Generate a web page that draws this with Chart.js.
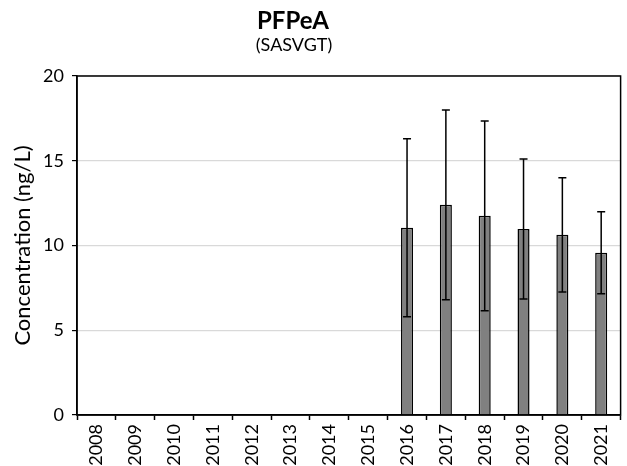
<!DOCTYPE html>
<html>
<head>
<meta charset="utf-8">
<script src="https://cdn.jsdelivr.net/npm/chart.js@4"></script>
<style>
  html, body { margin: 0; padding: 0; background: #fff; }
  #wrap { width: 627px; height: 466px; }
</style>
</head>
<body>
<div id="wrap"><canvas id="bars" width="627" height="466"></canvas></div>
<script>
const years = ["2008", "2009", "2010", "2011", "2012", "2013", "2014", "2015",
               "2016", "2017", "2018", "2019", "2020", "2021"];
const means = [null, null, null, null, null, null, null, null,
               11.05, 12.4, 11.75, 10.98, 10.63, 9.57];
const sds = [null, null, null, null, null, null, null, null,
             5.25, 5.6, 5.6, 4.13, 3.37, 2.42];
const yTicks = [0, 5, 10, 15, 20];

const FONT = "Lato, 'Open Sans', sans-serif";

// error bars (mean +/- sd), drawn from the scales
const errorBars = {
  id: "errorBars",
  afterDatasetsDraw(chart) {
    const ctx = chart.ctx;
    const y = chart.scales.y;
    const meta = chart.getDatasetMeta(0);
    ctx.save();
    ctx.strokeStyle = "#000";
    ctx.lineWidth = 1.5;
    meta.data.forEach((bar, i) => {
      if (means[i] == null || sds[i] == null) return;
      const top = y.getPixelForValue(means[i] + sds[i]);
      const bot = y.getPixelForValue(means[i] - sds[i]);
      const cap = 4;
      ctx.beginPath();
      ctx.moveTo(bar.x, top); ctx.lineTo(bar.x, bot);
      ctx.moveTo(bar.x - cap, top); ctx.lineTo(bar.x + cap, top);
      ctx.moveTo(bar.x - cap, bot); ctx.lineTo(bar.x + cap, bot);
      ctx.stroke();
    });
    ctx.restore();
  }
};

// plot frame + two-line title
const frame = {
  id: "frame",
  afterDraw(chart) {
    const ctx = chart.ctx;
    const a = chart.chartArea;
    ctx.save();
    ctx.strokeStyle = "#000";
    ctx.lineWidth = 1.5;
    ctx.strokeRect(a.left, a.top, a.right - a.left, a.bottom - a.top);
    ctx.fillStyle = "#000";
    ctx.textAlign = "center";
    ctx.textBaseline = "alphabetic";
    ctx.font = "bold 24px " + FONT;
    ctx.fillText("PFPeA", 293, 29);
    ctx.font = "18px " + FONT;
    ctx.fillText("(SASVGT)", 294, 51);
    ctx.restore();
  }
};

new Chart(document.getElementById("bars").getContext("2d"), {
  type: "bar",
  data: {
    labels: years,
    datasets: [
      {
        label: "PFPeA",
        data: means,
        backgroundColor: "#808080",
        borderColor: "#000",
        borderWidth: 1.5,
        barPercentage: 0.31,
        categoryPercentage: 1,
      },
    ],
  },
  options: {
    responsive: false,
    animation: false,
    layout: { padding: { top: 76, right: 6, left: 0, bottom: 0 } },
    plugins: {
      legend: { display: false },
      tooltip: { enabled: false },
    },
    scales: {
      x: {
        offset: true,
        grid: { drawOnChartArea: false, tickColor: "#000", tickLength: 5, tickWidth: 1.5 },
        border: { color: "#000", width: 1.5 },
        ticks: {
          color: "#000",
          font: { family: FONT, size: 18 },
          minRotation: 90,
          maxRotation: 90,
          autoSkip: false,
          padding: 4,
        },
        afterFit(s) { s.height = 51; },
      },
      y: {
        min: 0,
        max: 20,
        afterBuildTicks(s) { s.ticks = yTicks.map(v => ({ value: v })); },
        grid: { color: "#d9d9d9", tickColor: "#000", tickLength: 5, lineWidth: 1.2 },
        border: { color: "#000", width: 1.5 },
        ticks: {
          color: "#000",
          font: { family: FONT, size: 18 },
          padding: 8,
        },
        title: {
          display: true,
          text: "Concentration (ng/L)",
          color: "#000",
          font: { family: FONT, size: 22 },
          padding: { top: 10, bottom: 0 },
        },
        afterFit(s) { s.width = 77; },
      },
    },
  },
  plugins: [errorBars, frame],
});
</script>
</body>
</html>
